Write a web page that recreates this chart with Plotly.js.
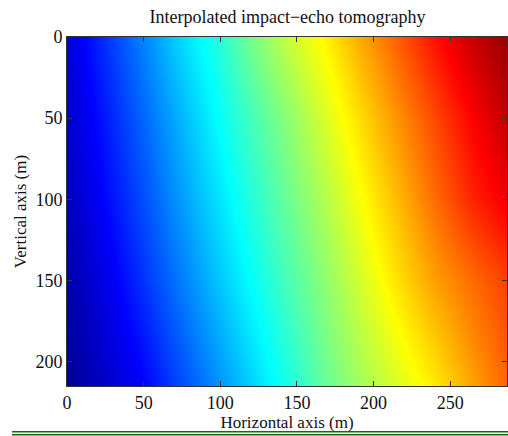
<!DOCTYPE html>
<html>
<head>
<meta charset="utf-8">
<script src="https://cdn.plot.ly/plotly-3.0.1.min.js"></script>
<style>html,body{margin:0;padding:0;background:#fff;}#chart{width:508px;height:436px;}</style>
</head>
<body>
<div id="chart"></div>
<script>
// Horizontal positions (m) of the grid columns
const xPos = [0, 24, 48, 72, 96, 120, 144, 168, 192, 216, 240, 264, 288];
// Vertical positions (m) of the grid rows
const yPos = [0, 50, 100, 150, 215];
// Normalized interpolated values, one row per vertical position
const row0   = [0.09, 0.17, 0.25, 0.33, 0.40, 0.49, 0.57, 0.635, 0.71, 0.785, 0.86, 0.93, 0.98];
const row50  = [0.072, 0.147, 0.221, 0.295, 0.369, 0.441, 0.513, 0.589, 0.661, 0.733, 0.805, 0.875, 0.94];
const row100 = [0.058, 0.128, 0.197, 0.27, 0.34, 0.41, 0.48, 0.55, 0.622, 0.694, 0.77, 0.84, 0.89];
const row150 = [0.04, 0.10, 0.17, 0.24, 0.31, 0.378, 0.447, 0.515, 0.585, 0.655, 0.72, 0.77, 0.815];
const row215 = [0.02, 0.07, 0.12, 0.19, 0.26, 0.33, 0.40, 0.475, 0.535, 0.59, 0.645, 0.715, 0.78];
const xTicks = [0, 50, 100, 150, 200, 250];
const yTicks = [0, 50, 100, 150, 200];

const jet = [
  [0, 'rgb(0,0,128)'],
  [0.125, 'rgb(0,0,255)'],
  [0.375, 'rgb(0,255,255)'],
  [0.625, 'rgb(255,255,0)'],
  [0.875, 'rgb(255,0,0)'],
  [1, 'rgb(128,0,0)']
];

const font = {family: '"Liberation Serif", "DejaVu Serif", serif', color: '#111'};

const trace = {
  type: 'heatmap',
  x: xPos,
  y: yPos,
  z: [row0, row50, row100, row150, row215],
  zmin: 0, zmax: 1,
  colorscale: jet,
  zsmooth: 'best',
  showscale: false,
  hoverinfo: 'skip'
};

const axisCommon = {
  showline: true, linecolor: '#333', linewidth: 1, mirror: 'ticks',
  ticks: 'inside', ticklen: 5, tickcolor: '#333', tickwidth: 1,
  showgrid: false, zeroline: false,
  tickfont: Object.assign({size: 18}, font)
};

const layout = {
  width: 508, height: 436,
  margin: {l: 67, r: 1, t: 37, b: 50},
  paper_bgcolor: '#fff', plot_bgcolor: '#fff',
  title: {text: 'Interpolated impact\u2212echo tomography', font: Object.assign({size: 18}, font),
          x: 0.566, xanchor: 'center', y: 0.961, yanchor: 'middle'},
  xaxis: Object.assign({}, axisCommon, {
    range: [0, 287], tickvals: xTicks, ticktext: xTicks.map(String),
    title: {text: 'Horizontal axis (m)', font: Object.assign({size: 17}, font), standoff: 0}
  }),
  yaxis: Object.assign({}, axisCommon, {
    range: [215, 0], tickvals: yTicks, ticktext: yTicks.map(String),
    title: {text: 'Vertical axis (m)', font: Object.assign({size: 17}, font), standoff: 4}
  }),
  shapes: [
    {type: 'line', xref: 'paper', yref: 'paper', x0: -0.125, x1: 1.005, y0: -0.131, y1: -0.131,
     line: {color: '#0b6e0b', width: 1.5}},
    {type: 'line', xref: 'paper', yref: 'paper', x0: -0.125, x1: 1.005, y0: -0.14, y1: -0.14,
     line: {color: '#0b6e0b', width: 1.5}}
  ]
};

Plotly.newPlot('chart', [trace], layout, {displayModeBar: false, staticPlot: true});
</script>
</body>
</html>
